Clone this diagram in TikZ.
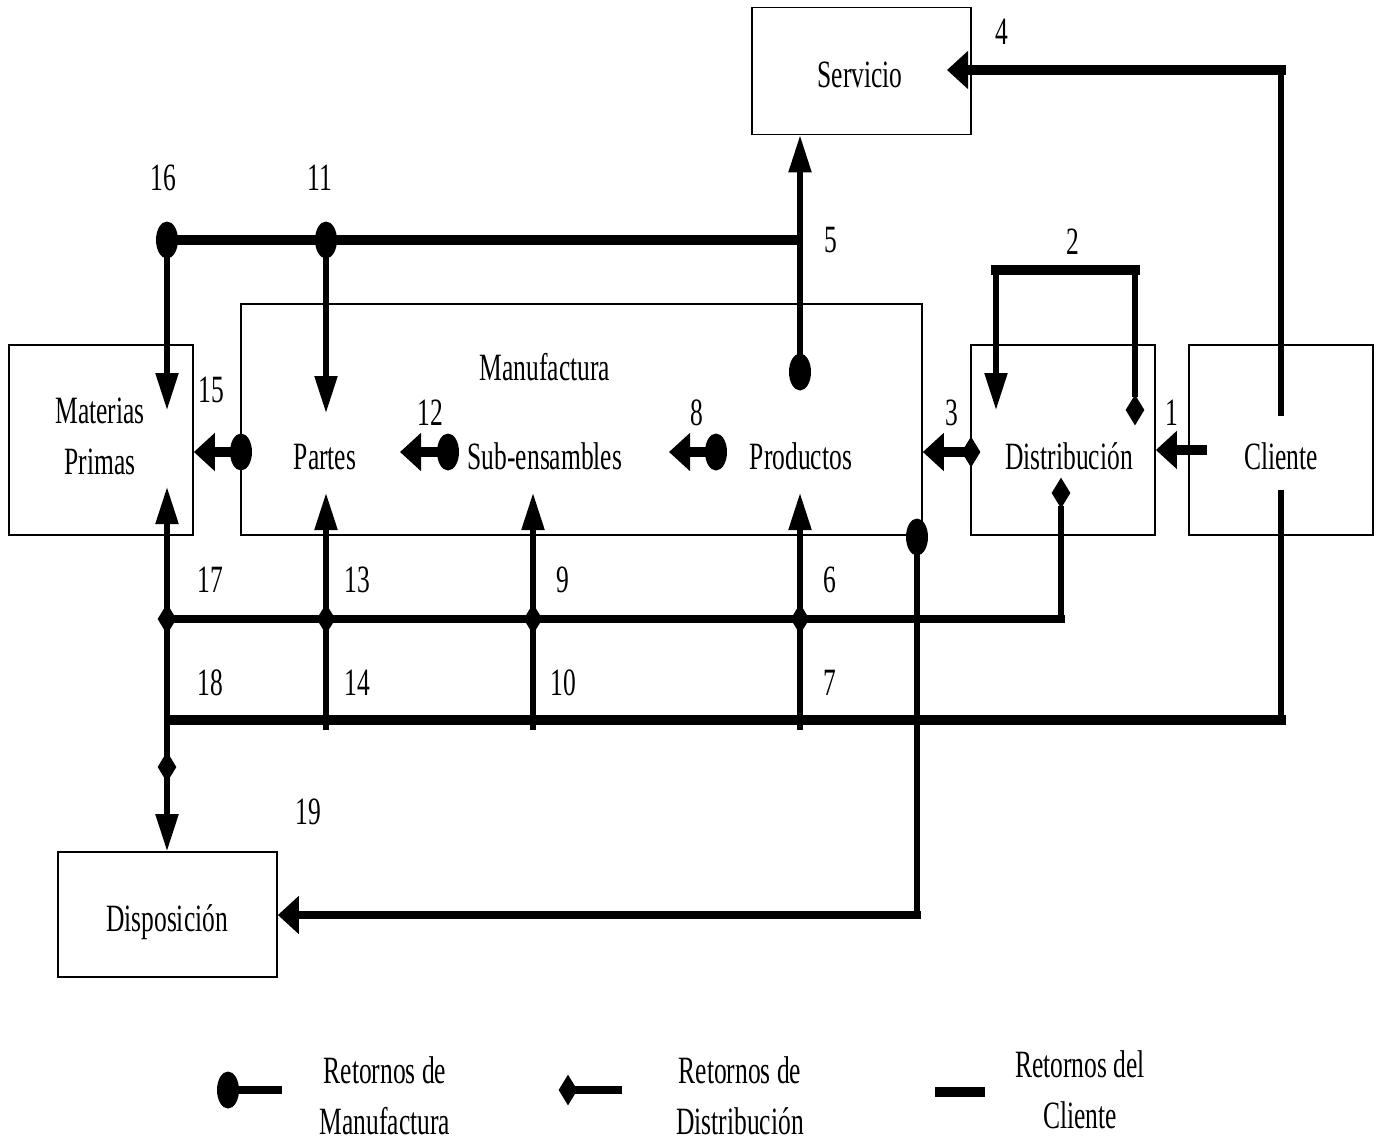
\documentclass[tikz,border=0pt]{standalone}
\usepackage{fontspec}
\setmainfont{Liberation Serif}[FakeStretch=0.66]
\usetikzlibrary{arrows.meta,shapes.geometric}

\begin{document}
\begin{tikzpicture}[x=0.02cm,y=-0.02cm,>={Triangle[length=0.74cm,width=0.44cm]},
every node/.style={font=\fontsize{22}{29}\selectfont},
box/.style={draw,line width=1pt,inner sep=0pt},
txt/.style={inner sep=0pt,text height=15pt,text depth=0pt},
hl/.style={line width=5.4pt,line cap=rect},
hm/.style={line width=4.5pt,line cap=rect},
vl/.style={line width=3pt,line cap=rect},
hto/.style={-{Triangle[length=0.42cm,width=0.74cm]}},
mfg/.style={ellipse,fill,inner sep=0pt,minimum width=0.44cm,minimum height=0.74cm},
dis/.style={diamond,fill,inner sep=0pt,minimum width=0.38cm,minimum height=0.62cm}]
\useasboundingbox (0,0) rectangle (1378,1143);
\node[box,minimum width=4.38cm,minimum height=2.54cm] (sv) at (861.5,71) {};
\node[box,minimum width=3.68cm,minimum height=3.8cm] (mp) at (101,440) {};
\node[box,minimum width=13.62cm,minimum height=4.62cm] (mf) at (581.5,419.5) {};
\node[box,minimum width=3.68cm,minimum height=3.8cm] (ds) at (1063,440) {};
\node[box,minimum width=3.68cm,minimum height=3.8cm] (cl) at (1281,440) {};
\node[box,minimum width=4.38cm,minimum height=2.5cm] (dp) at (167.5,914.5) {};
\node[txt] (tsv) at (860,74) {Servicio};
\node[align=center] (tmp) at (100,436) {Materias\\Primas};
\node[txt] (tmf) at (545,367) {Manufactura};
\node[txt] (pa) at (325,456) {Partes};
\node[txt] (su) at (545,456) {Sub-ensambles};
\node[txt] (pr) at (801,456) {Productos};
\node[txt] (tds) at (1069,456) {Distribución};
\node[txt] (tcl) at (1281,456) {Cliente};
\node[txt] (tdp) at (167,918) {Disposición};
\node (l1) at (1172,413) {1};
\node (l2) at (1073,242) {2};
\node (l3) at (952,413) {3};
\node (l4) at (1002,32) {4};
\node (l5) at (831,240) {5};
\node (l6) at (830,580) {6};
\node (l7) at (830,683) {7};
\node (l8) at (697,413) {8};
\node (l9) at (563,580) {9};
\node (l10) at (563,683) {10};
\node (l11) at (320,178) {11};
\node (l12) at (430,413) {12};
\node (l13) at (357,580) {13};
\node (l14) at (357,683) {14};
\node (l15) at (211,390) {15};
\node (l16) at (163,178) {16};
\node (l17) at (210,580) {17};
\node (l18) at (210,683) {18};
\node (l19) at (308,812) {19};
\node[mfg] (m5) at (800,372) {};
\node[mfg] (m16) at (167,240) {};
\node[mfg] (m11) at (326,240) {};
\node[mfg] (m15) at (241,452) {};
\node[mfg] (m12) at (448,452) {};
\node[mfg] (m8) at (716,452) {};
\node[mfg] (m19) at (917,537) {};
\node[dis] (d3) at (971,452) {};
\node[dis] (d2) at (1135,410) {};
\node[dis] (dd) at (1061,493) {};
\node[dis] (x6) at (800,619) {};
\node[dis] (x9) at (533,619) {};
\node[dis] (x13) at (326,619) {};
\node[dis] (x17) at (167,619) {};
\node[dis] (x19) at (167,767) {};
\coordinate (j5) at (797,240);
\coordinate (a16) at (167,410);
\coordinate (a11) at (326,413);
\coordinate (a12) at (400,452);
\coordinate (a8) at (669,452);
\coordinate (k19) at (917,915);
\coordinate (t2a) at (1135,270);
\coordinate (t2b) at (996,270);
\coordinate (a2) at (996,410);
\coordinate (k6) at (1061,619);
\coordinate (c4) at (1281,413);
\coordinate (k4) at (1281,70);
\coordinate (a4) at (947,70);
\coordinate (c1) at (1202,450);
\coordinate (c7) at (1281,493);
\coordinate (k7) at (1281,720);
\coordinate (j18) at (171,720);
\coordinate (b13) at (326,727);
\coordinate (b9) at (533,727);
\coordinate (b6) at (800,727);
\coordinate (a13) at (326,493);
\coordinate (a9) at (533,493);
\coordinate (a6) at (800,493);
\coordinate (a17) at (167,487);
\draw[vl,->] (m5) -- (m5 |- sv.south);
\draw[hl] (j5) -- (m11) -- (m16);
\draw[vl,->] (m16) -- (a16);
\draw[vl,->] (m11) -- (a11);
\draw[hl,hto] (m15) -- (m15 -| mp.east);
\draw[hl,hto] (m12) -- (a12);
\draw[hl,hto] (m8) -- (a8);
\draw[vl] (m19) -- (k19);
\draw[hm,hto] (k19) -- (k19 -| dp.east);
\draw[hl,hto] (d3) -- (d3 -| mf.east);
\draw[vl] (d2) -- (t2a);
\draw[hl] (t2a) -- (t2b);
\draw[vl,->] (t2b) -- (a2);
\draw[vl] (dd) -- (k6);
\draw[hm] (k6) -- (x17.center);
\draw[vl,<->] (a17) -- (x19 |- dp.north);
\draw[vl] (c4) -- (k4);
\draw[hl,hto] (k4) -- (a4);
\draw[hl,hto] (c1) -- (c1 -| ds.east);
\draw[vl] (c7) -- (k7);
\draw[hl] (k7) -- (j18);
\draw[vl,->] (b13) -- (a13);
\draw[vl,->] (b9) -- (a9);
\draw[vl,->] (b6) -- (a6);
\node[mfg] (lm) at (228,1090) {};
\coordinate (lme) at (278,1090);
\draw[hm] (lm) -- (lme);
\node[align=center] (lt1) at (385,1096) {Retornos de\\Manufactura};
\node[dis] (ld) at (568,1090) {};
\coordinate (lde) at (618,1090);
\draw[hm] (ld) -- (lde);
\node[align=center] (lt2) at (740,1096) {Retornos de\\Distribución};
\coordinate (lca) at (935,1092);
\coordinate (lcb) at (985,1092);
\draw[line width=6pt] (lca) -- (lcb);
\node[align=center] (lt3) at (1080,1090) {Retornos del\\Cliente};
\end{tikzpicture}
\end{document}
